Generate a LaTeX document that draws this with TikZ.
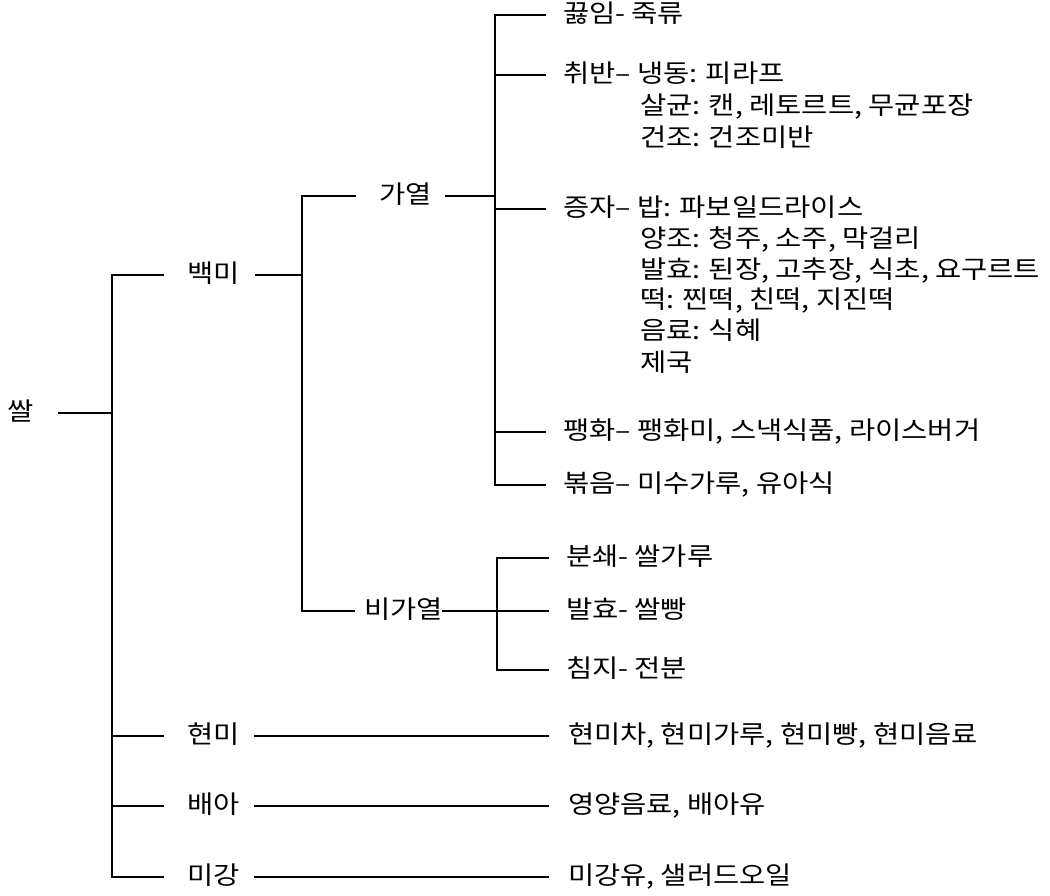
\documentclass[tikz,border=0pt]{standalone}
\usepackage{fontspec}
\newfontfamily\kr[FakeStretch=1.14]{Noto Sans CJK KR}
\tikzset{
  lbl/.style={font=\kr\fontsize{25pt}{30pt}\selectfont, inner sep=0pt, outer sep=0pt,
              text height=20pt, text depth=5pt, anchor=west},
  conn/.style={line width=1.5pt, line cap=rect}
}
\begin{document}
\begin{tikzpicture}[x=1pt,y=-1pt]
\useasboundingbox (0,0) rectangle (1050,896);
% level 0
\node[lbl] (ssal) at (8,413) {쌀};
\coordinate (b0) at (112,413);
% level 1
\node[lbl] (baekmi) at (187,275) {백미};
\node[lbl] (hyeonmi) at (187,736) {현미};
\node[lbl] (bae) at (187,806) {배아};
\node[lbl] (migang) at (187,877) {미강};
\coordinate (b1) at (302,400);
% level 2
\node[lbl] (gayeol) at (379,196) {가열};
\node[lbl] (bigayeol) at (364,611) {비가열};
\coordinate (b2) at (495,200);
\coordinate (b3) at (497,600);
% heated group
\node[lbl] (t1) at (563,15) {끓임- 죽류};
\node[lbl] (t2) at (563,75) {취반– 냉동: 피라프};
\node[lbl] (t2b) at (640,107) {살균: 캔, 레토르트, 무균포장};
\node[lbl] (t2c) at (640,139) {건조: 건조미반};
\node[lbl] (t3) at (563,209) {증자– 밥: 파보일드라이스};
\node[lbl] (t3b) at (640,240) {양조: 청주, 소주, 막걸리};
\node[lbl] (t3c) at (640,271) {발효: 된장, 고추장, 식초, 요구르트};
\node[lbl] (t3d) at (640,301) {떡: 찐떡, 친떡, 지진떡};
\node[lbl] (t3e) at (640,332) {음료: 식혜};
\node[lbl] (t3f) at (640,364) {제국};
\node[lbl] (t4) at (563,432) {팽화– 팽화미, 스낵식품, 라이스버거};
\node[lbl] (t5) at (563,485) {볶음– 미수가루, 유아식};
% non-heated group
\node[lbl] (n1) at (566,558) {분쇄- 쌀가루};
\node[lbl] (n2) at (566,611) {발효- 쌀빵};
\node[lbl] (n3) at (566,670) {침지- 전분};
% others
\node[lbl] (r1) at (568,736) {현미차, 현미가루, 현미빵, 현미음료};
\node[lbl] (r2) at (568,806) {영양음료, 배아유};
\node[lbl] (r3) at (568,877) {미강유, 샐러드오일};
% connectors: root
\draw[conn, shorten <=25pt] (ssal.east) -- (b0);
\draw[conn] (b0 |- baekmi.west) -- (b0 |- migang.west);
\foreach \n in {baekmi,hyeonmi,bae,migang}
  \draw[conn, shorten >=24pt] (b0 |- \n.west) -- (\n.west);
% white rice
\draw[conn, shorten <=16pt] (baekmi.east) -- (baekmi.east -| b1);
\draw[conn] (b1 |- gayeol.west) -- (b1 |- bigayeol.west);
\draw[conn, shorten >=24pt] (b1 |- gayeol.west) -- (gayeol.west);
\draw[conn, shorten >=10pt] (b1 |- bigayeol.west) -- (bigayeol.west);
% heated
\draw[conn, shorten <=14pt] (gayeol.east) -- (gayeol.east -| b2);
\draw[conn] (b2 |- t1.west) -- (b2 |- t5.west);
\foreach \n in {t1,t2,t3,t4,t5}
  \draw[conn, shorten >=18pt] (b2 |- \n.west) -- (\n.west);
% non-heated
\draw[conn, shorten >=18pt] (bigayeol.east) -- (n2.west);
\draw[conn] (b3 |- n1.west) -- (b3 |- n3.west);
\draw[conn, shorten >=18pt] (b3 |- n1.west) -- (n1.west);
\draw[conn, shorten >=18pt] (b3 |- n3.west) -- (n3.west);
% brown rice, germ, bran
\draw[conn, shorten <=15pt, shorten >=20pt] (hyeonmi.east) -- (r1.west);
\draw[conn, shorten <=15pt, shorten >=20pt] (bae.east) -- (r2.west);
\draw[conn, shorten <=15pt, shorten >=20pt] (migang.east) -- (r3.west);
\end{tikzpicture}
\end{document}
